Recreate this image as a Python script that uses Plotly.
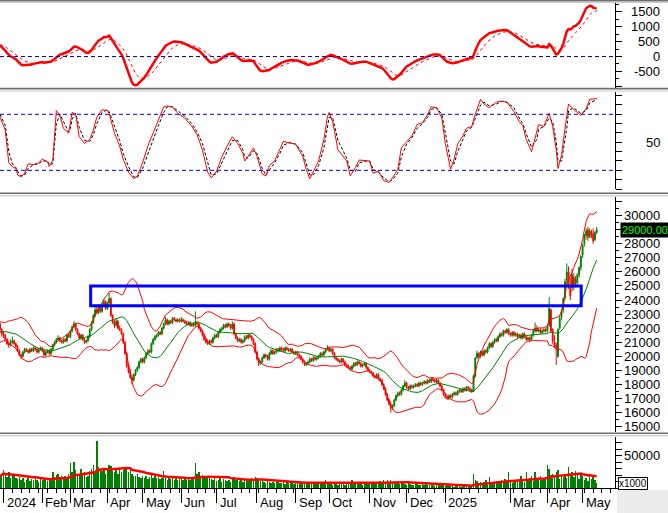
import numpy as np
import pandas as pd
import plotly.graph_objects as go

# ---------------- data (prices in thousand VND, volume in thousand shares) -------------
# warm-up closes before the first visible session (only used for indicator warm-up)
pre_close = [19.6,19.8,19.7,19.9,20.1,20.0,20.2,20.4,20.3,20.5,
             20.4,20.6,20.7,20.5,20.8,20.9,20.7,21.0,21.1,20.9,
             21.0,21.2,21.1,21.3,21.4,21.2,21.5,21.6,21.4,21.7,
             21.8,21.6,21.9,22.1,21.9,22.2,22.0,22.3,22.1,22.2]

open_k = [22.3,21.9,21.6,21.5,21.2,20.9,20.8,21.0,21.1,20.9,
          20.7,20.4,20.1,20.0,20.3,20.5,20.4,20.3,20.5,20.4,
          20.6,20.5,20.3,20.5,20.6,20.4,20.1,20.3,20.4,20.2,
          20.5,20.8,21.0,21.2,21.3,21.1,21.0,21.2,21.1,21.5,
          21.4,21.8,22.1,22.3,21.9,21.6,21.3,21.5,21.2,21.0,
          21.1,21.4,21.9,22.4,22.9,23.3,23.1,23.5,23.2,23.6,
          23.9,23.4,23.8,24.1,22.9,22.4,22.2,22.5,22.0,21.9,
          21.6,21.0,20.2,19.3,18.9,18.5,18.3,18.7,19.0,19.2,
          19.6,19.8,19.6,19.9,20.2,20.4,20.3,20.9,21.2,21.4,
          21.5,21.7,21.6,22.0,22.3,22.6,22.3,22.5,22.4,22.7,
          22.6,22.5,22.6,22.5,22.6,22.5,22.4,22.3,22.4,22.2,
          22.3,22.2,22.4,22.3,22.0,21.8,21.5,21.2,21.0,20.9,
          21.1,21.0,21.3,21.5,21.4,21.7,21.9,22.0,22.2,22.1,
          22.3,22.2,22.0,22.3,21.6,21.3,21.1,21.2,21.0,21.1,
          21.4,21.3,21.5,21.4,21.2,20.9,20.3,19.8,19.5,19.6,
          19.9,20.1,20.0,19.8,20.2,20.4,20.2,20.3,20.5,20.4,
          20.6,20.5,20.4,20.6,20.5,20.4,20.5,20.3,20.2,20.3,
          20.1,20.0,19.8,19.6,19.4,19.5,19.6,19.8,19.7,19.9,
          19.8,19.9,20.0,20.2,20.1,20.3,20.5,20.6,20.4,20.5,
          20.2,19.9,19.8,19.7,19.6,19.8,19.6,19.4,19.3,19.2,
          19.1,19.3,19.5,19.4,19.6,19.5,19.3,19.4,19.5,19.2,
          19.0,18.9,18.8,18.6,18.5,18.7,18.4,18.3,18.0,17.7,
          17.3,16.9,16.6,16.3,16.5,16.9,17.2,17.4,17.3,17.6,
          17.9,18.1,17.8,17.7,17.9,17.8,17.9,18.0,17.9,18.1,
          18.0,18.1,18.2,18.1,18.3,18.2,18.4,18.3,18.2,18.3,
          18.1,17.9,17.6,17.3,17.1,17.0,17.2,17.1,17.3,17.4,
          17.3,17.5,17.6,17.5,17.7,17.6,17.8,17.7,17.6,17.5,
          18.6,19.9,20.2,20.0,20.3,20.1,20.4,20.3,20.6,20.9,
          20.7,21.0,21.2,21.1,21.4,21.6,21.5,21.8,21.7,21.9,
          21.6,21.5,21.7,21.5,21.6,21.4,21.5,21.3,21.6,21.4,
          21.2,21.3,21.2,21.5,21.8,22.0,21.8,21.9,21.7,21.8,
          21.9,21.8,22.2,23.3,21.9,21.0,20.8,20.0,22.0,22.8,
          23.3,24.2,25.4,26.0,25.0,25.8,25.0,25.5,25.2,25.8,
          26.3,27.2,28.0,28.6,29.0,28.5,28.9,28.7,28.3,28.8]

high_k = [22.4,22.0,21.8,21.6,21.3,21.1,21.2,21.4,21.2,21.0,
          20.8,20.5,20.2,20.4,20.6,20.6,20.5,20.6,20.6,20.7,
          20.7,20.6,20.6,20.7,20.7,20.5,20.4,20.5,20.5,20.6,
          20.9,21.1,21.3,21.5,21.4,21.2,21.3,21.3,21.6,21.7,
          21.9,22.2,22.5,22.4,22.0,21.7,21.6,21.6,21.3,21.2,
          21.5,22.0,22.5,23.0,23.5,23.5,23.7,23.6,23.8,24.1,
          24.0,23.9,24.5,24.2,23.0,22.6,22.7,22.6,22.2,22.0,
          21.7,21.1,20.3,19.5,19.1,18.7,18.8,19.1,19.3,19.7,
          19.9,19.9,20.0,20.3,20.5,20.5,21.0,21.3,21.5,21.6,
          21.8,21.8,22.1,22.4,22.8,22.7,22.6,22.6,22.8,22.8,
          22.7,22.7,22.7,22.8,22.7,22.6,22.5,22.5,22.5,22.4,
          22.4,23.2,22.5,22.4,22.1,21.9,21.6,21.3,21.2,21.2,
          21.2,21.4,21.6,21.6,21.8,22.0,22.1,22.3,22.3,22.4,
          22.4,22.3,22.5,22.4,21.7,21.4,21.3,21.3,21.2,21.5,
          21.5,21.6,21.6,21.5,21.3,21.0,20.4,19.9,19.7,20.0,
          20.2,20.2,20.1,20.3,20.5,20.5,20.4,20.6,20.6,20.7,
          20.7,20.6,20.7,20.7,20.6,20.6,20.6,20.4,20.4,20.4,
          20.2,20.1,19.9,19.7,19.6,19.7,19.9,19.9,20.0,20.0,
          20.0,20.1,20.3,20.3,20.4,20.6,20.8,20.7,20.6,20.6,
          20.3,20.0,19.9,19.8,19.9,19.9,19.7,19.5,19.4,19.3,
          19.4,19.6,19.6,19.7,19.7,19.6,19.5,19.6,19.6,19.3,
          19.1,19.0,18.9,18.7,18.8,18.8,18.5,18.4,18.1,17.8,
          17.4,17.0,16.8,16.6,17.0,17.3,17.5,17.5,17.7,18.0,
          18.3,18.2,17.9,18.0,18.0,18.0,18.1,18.1,18.2,18.2,
          18.2,18.3,18.3,18.4,18.4,18.5,18.5,18.4,18.4,18.4,
          18.2,18.0,17.7,17.4,17.2,17.3,17.3,17.4,17.5,17.5,
          17.6,17.7,17.7,17.8,17.8,17.9,17.9,17.8,17.7,18.7,
          19.9,20.4,20.3,20.4,20.4,20.5,20.5,20.7,21.0,21.0,
          21.1,21.3,21.3,21.5,21.7,21.7,21.9,21.9,22.0,22.0,
          21.7,21.8,21.8,21.7,21.7,21.6,21.6,21.7,21.7,21.5,
          21.4,21.4,21.6,21.9,22.4,22.2,22.0,22.0,21.9,22.0,
          22.0,22.3,24.2,23.4,22.0,21.5,21.0,22.0,22.9,23.4,
          24.2,25.5,26.6,26.4,25.6,26.2,25.9,25.7,25.9,26.4,
          27.2,28.0,28.7,29.1,29.2,29.1,29.0,29.1,28.9,29.2]

low_k = [21.7,21.4,21.3,21.1,20.8,20.6,20.7,20.9,20.8,20.6,
         20.3,20.0,19.8,19.9,20.2,20.3,20.2,20.2,20.3,20.3,
         20.4,20.2,20.2,20.4,20.3,20.0,20.0,20.2,20.1,20.1,
         20.4,20.7,20.9,21.1,21.0,20.9,20.9,21.0,21.0,21.3,
         21.3,21.7,22.0,21.8,21.5,21.2,21.2,21.1,20.9,20.9,
         21.0,21.3,21.8,22.3,22.8,23.0,23.0,23.1,23.1,23.5,
         23.3,23.3,23.7,22.8,22.3,22.0,22.1,21.9,21.8,21.5,
         20.9,20.1,19.2,18.8,18.4,18.0,18.2,18.6,18.9,19.1,
         19.5,19.5,19.5,19.8,20.1,20.2,20.2,20.8,21.1,21.3,
         21.4,21.5,21.5,21.9,22.2,22.2,22.2,22.3,22.3,22.5,
         22.4,22.4,22.4,22.4,22.4,22.3,22.2,22.2,22.1,22.1,
         22.1,22.1,22.2,21.9,21.7,21.4,21.1,20.9,20.8,20.8,
         20.9,20.9,21.2,21.3,21.3,21.6,21.8,21.9,22.0,22.0,
         22.1,21.9,21.9,21.5,21.2,21.0,21.0,20.9,20.9,21.0,
         21.2,21.2,21.3,21.1,20.8,20.2,19.7,19.3,19.4,19.5,
         19.8,19.9,19.7,19.7,20.1,20.1,20.1,20.2,20.3,20.3,
         20.4,20.3,20.3,20.4,20.3,20.3,20.2,20.1,20.1,20.0,
         19.9,19.7,19.5,19.3,19.3,19.4,19.5,19.6,19.6,19.7,
         19.7,19.8,19.9,20.0,20.0,20.2,20.4,20.3,20.3,20.1,
         19.8,19.7,19.6,19.5,19.5,19.5,19.3,19.2,19.1,19.0,
         19.0,19.2,19.3,19.3,19.4,19.2,19.2,19.3,19.1,18.9,
         18.8,18.7,18.5,18.4,18.4,18.3,18.2,17.9,17.6,17.2,
         16.8,16.5,16.0,16.2,16.4,16.8,17.1,17.2,17.2,17.5,
         17.8,17.7,17.6,17.6,17.7,17.7,17.8,17.8,17.8,17.9,
         17.9,18.0,18.0,18.0,18.1,18.1,18.2,18.1,18.1,18.0,
         17.8,17.5,17.2,17.0,16.9,16.9,17.0,17.0,17.2,17.2,
         17.2,17.4,17.4,17.4,17.5,17.5,17.6,17.5,17.4,17.5,
         18.5,19.8,19.9,19.9,20.0,20.0,20.2,20.2,20.5,20.6,
         20.6,20.9,21.0,21.0,21.3,21.4,21.4,21.6,21.6,21.5,
         21.4,21.4,21.4,21.4,21.3,21.3,21.2,21.2,21.3,21.1,
         21.1,21.0,21.1,21.4,21.7,21.7,21.7,21.6,21.6,21.7,
         21.7,21.7,22.1,21.7,20.9,20.6,19.4,19.9,21.9,22.6,
         23.1,24.0,25.0,24.8,24.0,24.6,24.7,24.9,25.0,25.6,
         26.1,27.0,27.8,28.3,28.2,28.4,28.4,28.0,28.2,28.7]

close_k = [21.9,21.6,21.5,21.2,20.9,20.8,21.0,21.1,20.9,20.7,
           20.4,20.1,20.0,20.3,20.5,20.4,20.3,20.5,20.4,20.6,
           20.5,20.3,20.5,20.6,20.4,20.1,20.3,20.4,20.2,20.5,
           20.8,21.0,21.2,21.3,21.1,21.0,21.2,21.1,21.5,21.4,
           21.8,22.1,22.3,21.9,21.6,21.3,21.5,21.2,21.0,21.1,
           21.4,21.9,22.4,22.9,23.3,23.1,23.5,23.2,23.6,23.9,
           23.4,23.8,24.1,22.9,22.4,22.2,22.5,22.0,21.9,21.6,
           21.0,20.2,19.3,18.9,18.5,18.3,18.7,19.0,19.2,19.6,
           19.8,19.6,19.9,20.2,20.4,20.3,20.9,21.2,21.4,21.5,
           21.7,21.6,22.0,22.3,22.6,22.3,22.5,22.4,22.7,22.6,
           22.5,22.6,22.5,22.6,22.5,22.4,22.3,22.4,22.2,22.3,
           22.2,22.4,22.3,22.0,21.8,21.5,21.2,21.0,20.9,21.1,
           21.0,21.3,21.5,21.4,21.7,21.9,22.0,22.2,22.1,22.3,
           22.2,22.0,22.3,21.6,21.3,21.1,21.2,21.0,21.1,21.4,
           21.3,21.5,21.4,21.2,20.9,20.3,19.8,19.5,19.6,19.9,
           20.1,20.0,19.8,20.2,20.4,20.2,20.3,20.5,20.4,20.6,
           20.5,20.4,20.6,20.5,20.4,20.5,20.3,20.2,20.3,20.1,
           20.0,19.8,19.6,19.4,19.5,19.6,19.8,19.7,19.9,19.8,
           19.9,20.0,20.2,20.1,20.3,20.5,20.6,20.4,20.5,20.2,
           19.9,19.8,19.7,19.6,19.8,19.6,19.4,19.3,19.2,19.1,
           19.3,19.5,19.4,19.6,19.5,19.3,19.4,19.5,19.2,19.0,
           18.9,18.8,18.6,18.5,18.7,18.4,18.3,18.0,17.7,17.3,
           16.9,16.6,16.3,16.5,16.9,17.2,17.4,17.3,17.6,17.9,
           18.1,17.8,17.7,17.9,17.8,17.9,18.0,17.9,18.1,18.0,
           18.1,18.2,18.1,18.3,18.2,18.4,18.3,18.2,18.3,18.1,
           17.9,17.6,17.3,17.1,17.0,17.2,17.1,17.3,17.4,17.3,
           17.5,17.6,17.5,17.7,17.6,17.8,17.7,17.6,17.5,18.6,
           19.9,20.2,20.0,20.3,20.1,20.4,20.3,20.6,20.9,20.7,
           21.0,21.2,21.1,21.4,21.6,21.5,21.8,21.7,21.9,21.6,
           21.5,21.7,21.5,21.6,21.4,21.5,21.3,21.6,21.4,21.2,
           21.3,21.2,21.5,21.8,22.0,21.8,21.9,21.7,21.8,21.9,
           21.8,22.1,23.4,21.8,21.1,20.8,20.6,21.9,22.7,23.2,
           24.1,25.3,26.0,25.0,24.3,24.9,25.6,25.2,25.8,26.3,
           27.1,27.9,28.6,28.9,28.5,28.9,28.6,28.2,28.8,29.0]

volume_k = [18,22,27,20,17,24,15,19,21,16,
            14,17,12,15,10,13,16,11,14,12,
            15,13,10,14,12,16,13,11,15,14,
            24,17,20,22,15,18,14,19,16,21,
            38,24,40,28,18,22,30,20,25,17,
            19,26,30,35,24,73,33,28,26,30,
            22,29,36,34,26,24,28,22,31,25,
            27,33,30,24,28,21,19,18,22,17,
            16,19,15,18,14,17,20,16,18,15,
            17,14,16,26,15,13,18,14,16,12,
            15,13,17,14,12,16,13,15,12,14,
            16,39,22,25,18,20,17,19,15,16,
            14,12,15,11,13,16,10,14,12,11,
            13,10,15,17,12,14,11,13,10,12,
            14,11,13,16,12,17,15,13,11,12,
            10,8,11,9,7,10,8,9,11,7,
            8,10,6,9,7,8,10,6,8,7,
            9,7,8,6,10,7,8,9,7,6,
            8,7,9,6,8,12,7,6,8,5,
            7,6,5,8,6,7,5,6,8,7,
            13,6,8,7,9,6,5,7,8,6,
            9,7,10,8,6,9,11,8,12,10,
            13,9,12,8,10,7,9,6,8,7,
            6,5,7,6,4,5,6,7,5,4,
            6,5,7,4,5,6,5,3,6,4,
            5,6,4,3,5,4,3,5,2,4,
            3,4,2,3,4,3,2,4,3,22,
            12,11,8,10,7,9,12,8,17,10,
            7,9,11,8,10,12,9,14,11,25,
            10,8,12,9,14,11,18,13,10,25,
            12,15,19,11,24,16,13,18,12,15,
            17,36,30,20,22,18,25,28,14,19,
            17,22,15,33,20,24,17,26,20,14,
            22,18,13,16,11,19,14,17,12,8]

# stochastic oscillator (session index, %K, %D)
stoch_idx = [0,1,3,5,7,9,10,12,14,16,19,22,24,27,28,30,31,32,34,36,39,40,41,43,45,48,51,53,55,58,
             61,62,65,68,70,73,76,78,81,84,87,90,93,95,98,101,105,109,112,115,118,120,123,126,129,132,135,138,139,141,
             144,146,149,151,153,156,159,161,165,168,172,174,176,178,181,184,186,187,189,192,197,199,202,204,208,210,212,215,218,221,
             223,226,228,231,234,237,240,243,245,248,251,253,256,258,260,263,265,268,270,273,275,278,282,285,288,292,295,297,299,302,
             305,306,309,312,314,316,317,319,322,323,326,330,333,335,339]
stoch_k = [77,72,63,28,24,22,15,13,17,27,26,28,32,29,24,31,63,84,79,65,60,70,82,80,56,49,53,63,77,85,
           84,81,60,46,32,18,11,14,28,46,60,74,88,89,88,81,76,67,58,42,18,12,19,34,46,56,49,38,30,35,
           44,35,16,14,25,30,42,51,49,48,35,21,11,18,30,53,77,82,72,42,30,14,23,31,30,30,17,19,9,7,
           12,21,44,51,57,69,71,80,88,87,76,49,21,32,48,57,65,67,80,96,91,87,93,94,93,83,72,68,53,40,
           60,69,67,81,67,42,22,36,79,91,85,79,86,96,97]
stoch_d = [80,76,68,40,27,23,19,14,15,22,26,27,30,30,26,27,45,70,80,72,61,65,75,81,66,52,51,58,70,82,
           85,83,68,52,38,24,13,12,22,38,54,68,82,88,88,84,78,70,61,49,27,15,16,28,41,52,52,42,35,33,
           41,38,22,15,20,28,38,47,50,48,39,27,15,15,25,44,66,77,76,52,33,20,19,28,30,30,21,18,12,8,
           10,17,34,48,55,65,70,77,85,87,80,60,30,27,40,53,62,66,75,90,93,89,91,94,93,87,76,70,59,45,
           53,64,67,76,72,51,30,30,65,84,87,81,84,92,96]

# month starts (session index) and their labels
month_idx = [2, 24, 40, 61, 81, 103, 123, 146, 168, 187, 210, 231, 253, 290, 311, 331]
month_lbl = ["2024", "Feb", "Mar", "Apr", "May", "Jun", "Jul", "Aug", "Sep", "Oct",
             "Nov", "Dec", "2025", "Mar", "Apr", "May"]

# highlighted resistance zone
zone_start, zone_end = 51.5, 330.2
zone_low, zone_high = 23600, 25000

# labelled axis values (29000 sits under the last-price tag)
price_ticks = [15000, 16000, 17000, 18000, 19000, 20000, 21000, 22000, 23000,
               24000, 25000, 26000, 27000, 28000, 30000]
macd_ticks = [-500, 0, 500, 1000, 1500]
stoch_ticks = [50]
vol_ticks = [50000]

# ---------------- indicators ----------------
n = len(close_k)
assert len(open_k) == n and len(high_k) == n and len(low_k) == n and len(volume_k) == n
assert len(stoch_idx) == len(stoch_k) == len(stoch_d)
npre = len(pre_close)
C = pd.Series(pre_close + close_k) * 1000

ema12 = C.ewm(span=12, adjust=False).mean()
ema26 = C.ewm(span=26, adjust=False).mean()
macd = (ema12 - ema26)
sig = macd.ewm(span=9, adjust=False).mean()
ma20 = C.rolling(20).mean()
sd20 = C.rolling(20).std(ddof=0)
upper = ma20 + 2 * sd20
lower = ma20 - 2 * sd20

sl = slice(npre, None)
macd, sig, ma20, upper, lower = [s.iloc[sl].to_numpy() for s in (macd, sig, ma20, upper, lower)]
O = np.array(open_k) * 1000
Hi = np.array(high_k) * 1000
Lo = np.array(low_k) * 1000
Cl = np.array(close_k) * 1000
vol = np.array(volume_k) * 1000
vol_ma = pd.Series(vol).rolling(20, min_periods=1).mean().to_numpy()
x = np.arange(n)

# ---------------- figure ----------------
W, HT = 668, 513
FONT = "Liberation Sans, Arial, sans-serif"
XR = 615 / W
RED, GREEN, BLUE = "#FF0000", "#008000", "#0000FF"

def dom(top, bot):
    return [1 - bot / HT, 1 - top / HT]

fig = go.Figure()
fig.add_trace(go.Scatter(x=x, y=sig, yaxis="y", mode="lines",
                         line=dict(color=RED, width=1, dash="3px,3px")))
fig.add_trace(go.Scatter(x=x, y=macd, yaxis="y", mode="lines",
                         line=dict(color=RED, width=2.5)))
fig.add_trace(go.Scatter(x=stoch_idx, y=stoch_d, yaxis="y2", mode="lines",
                         line=dict(color="black", width=1, dash="3px,2px")))
fig.add_trace(go.Scatter(x=stoch_idx, y=stoch_k, yaxis="y2", mode="lines",
                         line=dict(color=RED, width=1)))
fig.add_trace(go.Scatter(x=x, y=upper, yaxis="y3", mode="lines", line=dict(color=RED, width=1)))
fig.add_trace(go.Scatter(x=x, y=lower, yaxis="y3", mode="lines", line=dict(color=RED, width=1)))
fig.add_trace(go.Scatter(x=x, y=ma20, yaxis="y3", mode="lines", line=dict(color=GREEN, width=1)))
fig.add_trace(go.Candlestick(x=x, open=O, high=Hi, low=Lo, close=Cl, yaxis="y3",
                             increasing=dict(line=dict(color=GREEN, width=1), fillcolor=GREEN),
                             decreasing=dict(line=dict(color=RED, width=1), fillcolor=RED),
                             whiskerwidth=0))
fig.add_trace(go.Bar(x=x, y=vol, yaxis="y4", marker=dict(color=GREEN, line=dict(width=0)), width=0.8))
fig.add_trace(go.Scatter(x=x, y=vol_ma, yaxis="y4", mode="lines", line=dict(color=RED, width=2.5)))

yax = dict(side="right", anchor="x", showline=True, linecolor="black", linewidth=1,
           ticks="outside", ticklen=6, tickcolor="black", showticklabels=False,
           showgrid=False, zeroline=False, fixedrange=True)

fig.update_layout(
    width=W, height=HT, margin=dict(l=0, r=0, t=0, b=0),
    paper_bgcolor="white", plot_bgcolor="white", showlegend=False,
    font=dict(family=FONT, size=13, color="black"),
    bargap=0,
    xaxis=dict(domain=[0, XR], range=[0.0, 349.4], anchor="y4", showline=True,
               linecolor="black", linewidth=1, ticks="outside", tickvals=month_idx,
               ticklen=14, tickcolor="black", showticklabels=False, showgrid=False,
               zeroline=False, rangeslider=dict(visible=False),
               minor=dict(ticks="outside", tick0=2, dtick=5, ticklen=4, tickcolor="black")),
    yaxis=dict(domain=dom(2, 88), range=[-1061, 1835], tickvals=[-1000, -500, 0, 500, 1000, 1500],
               minor=dict(ticks="outside", dtick=250, ticklen=3, tickcolor="black"), **yax),
    yaxis2=dict(domain=dom(92, 189), range=[0, 103.9], tickvals=list(range(0, 101, 10)), **yax),
    yaxis3=dict(domain=dom(197, 432), range=[14623, 31325], tickvals=list(range(15000, 32000, 1000)),
                minor=dict(ticks="outside", dtick=500, ticklen=3, tickcolor="black"), **yax),
    yaxis4=dict(domain=dom(437, 488), range=[0, 78460], tickvals=list(range(0, 80000, 10000)), **yax),
)

shapes = []
for yref, val in (("y", 0), ("y2", 80), ("y2", 20)):
    shapes.append(dict(type="line", xref="paper", yref=yref, x0=0, x1=XR, y0=val, y1=val,
                       line=dict(color="#0000CC", width=1, dash="4px,3px")))
shapes.append(dict(type="rect", xref="x", yref="y3", x0=zone_start, x1=zone_end,
                   y0=zone_low, y1=zone_high, line=dict(color=BLUE, width=3)))
for dark, light in ((0.8, 2.3), (88.6, 91.0), (193.3, 195.8), (433.2, 435.7)):
    shapes.append(dict(type="line", xref="paper", yref="paper", x0=0, x1=1,
                       y0=1 - dark / HT, y1=1 - dark / HT, line=dict(color="#6E6E6E", width=1.6)))
    shapes.append(dict(type="line", xref="paper", yref="paper", x0=0, x1=1,
                       y0=1 - light / HT, y1=1 - light / HT, line=dict(color="#C8C8C8", width=1.2)))
shapes.append(dict(type="rect", xref="paper", yref="paper", x0=617 / W, x1=1, y0=0,
                   y1=1 - 490 / HT, fillcolor="#ECECEC", line=dict(width=0), layer="below"))
fig.update_layout(shapes=shapes)

ann = []
LX = 662 / W
for yref, ticks in (("y", macd_ticks), ("y2", stoch_ticks), ("y3", price_ticks), ("y4", vol_ticks)):
    for v in ticks:
        ann.append(dict(x=LX, xref="paper", y=v, yref=yref, text=str(v), showarrow=False,
                        xanchor="right", yanchor="middle", font=dict(size=13, color="black")))
for mi, ml in zip(month_idx, month_lbl):
    ann.append(dict(x=mi, xref="x", y=1 - 502 / HT, yref="paper", text=ml, showarrow=False,
                    xanchor="left", yanchor="middle", xshift=1, font=dict(size=13, color="black")))
ann.append(dict(x=619.5 / W, xref="paper", y=Cl[-1], yref="y3", text=f"{Cl[-1]:.2f}",
                showarrow=False, xanchor="left", yanchor="middle", bgcolor="black",
                font=dict(size=11, color="#00FF00"), borderpad=1))
ann.append(dict(x=618 / W, xref="paper", y=1 - 483.5 / HT, yref="paper", text="x1000",
                showarrow=False, xanchor="left", yanchor="middle", bgcolor="white",
                bordercolor="black", borderwidth=1, borderpad=0, font=dict(size=10, color="black")))
fig.update_layout(annotations=ann)

fig.write_html("out.html", config={"displayModeBar": False, "staticPlot": True},
               post_script="document.body.style.margin='0px';document.body.style.overflow='hidden';")
